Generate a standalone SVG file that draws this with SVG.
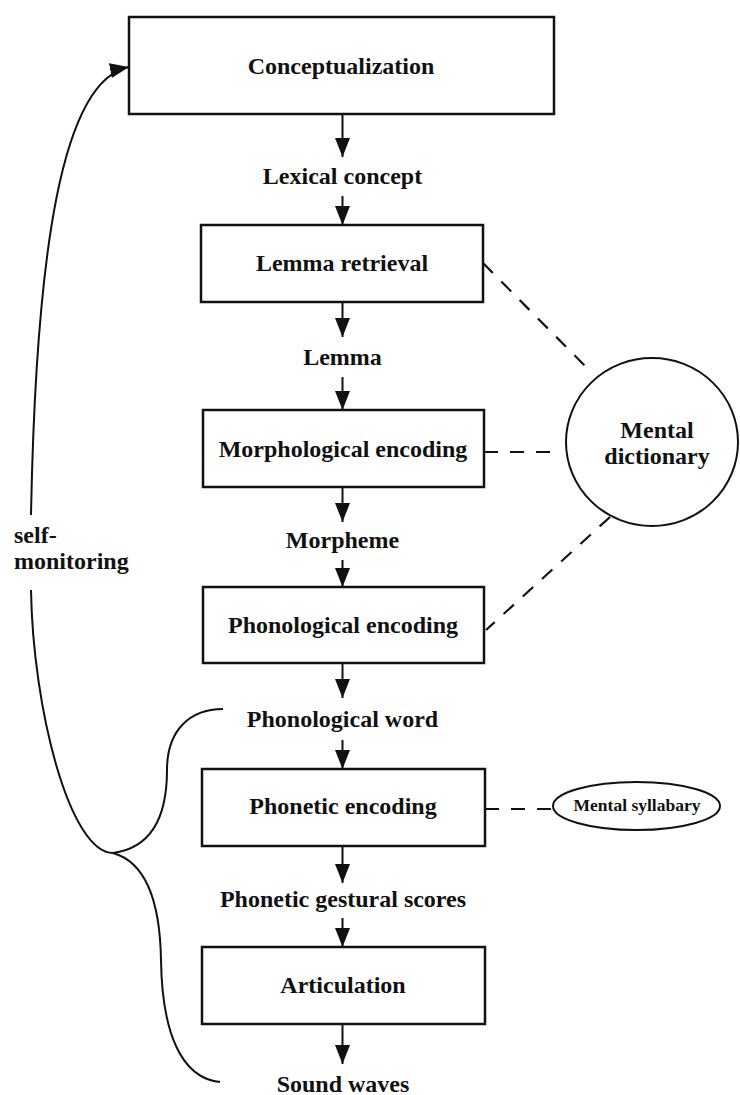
<svg xmlns="http://www.w3.org/2000/svg" width="740" height="1095" viewBox="0 0 740 1095">
<style>
.box{fill:#fff;stroke:#111;stroke-width:2.5}
.t{font-family:"Liberation Serif","Times New Roman",serif;font-weight:bold;font-size:24px;fill:#111;text-anchor:middle}
.ts{font-family:"Liberation Serif","Times New Roman",serif;font-weight:bold;font-size:17.5px;fill:#111;text-anchor:middle}
.arr{stroke:#111;stroke-width:2;fill:none;marker-end:url(#ah)}
.dash{stroke:#111;stroke-width:2.2;fill:none;stroke-dasharray:14 12}
.curve{stroke:#111;stroke-width:2;fill:none}
</style>
<defs>
<marker id="ah" markerUnits="userSpaceOnUse" markerWidth="20" markerHeight="16" refX="19" refY="7.5" orient="auto">
<path d="M0,0 L19,7.5 L0,15 z" fill="#111"/>
</marker>
</defs>
<rect width="740" height="1095" fill="#fff"/>
<g id="connectors">
<line class="arr" x1="342.5" y1="114" x2="342.5" y2="157"/>
<line class="arr" x1="342.5" y1="196" x2="342.5" y2="225"/>
<line class="arr" x1="342.5" y1="302" x2="342.5" y2="337"/>
<line class="arr" x1="342.5" y1="377" x2="342.5" y2="410"/>
<line class="arr" x1="342.5" y1="487" x2="342.5" y2="522"/>
<line class="arr" x1="342.5" y1="560" x2="342.5" y2="587"/>
<line class="arr" x1="342.5" y1="663" x2="342.5" y2="698"/>
<line class="arr" x1="342.5" y1="740" x2="342.5" y2="769"/>
<line class="arr" x1="342.5" y1="846" x2="342.5" y2="883"/>
<line class="arr" x1="342.5" y1="918" x2="342.5" y2="947"/>
<line class="arr" x1="342.5" y1="1024" x2="342.5" y2="1064"/>
<line class="dash" x1="483" y1="263" x2="590" y2="371"/>
<line class="dash" x1="484" y1="452" x2="553" y2="452"/>
<line class="dash" x1="610" y1="517" x2="486" y2="630"/>
<line class="dash" x1="485" y1="809" x2="553" y2="809"/>
<path class="arr" d="M31,515 C36,250 62,80 129,67"/>
<path class="curve" d="M31,590 C33,710 70,853 113,853"/>
<path class="curve" d="M113,853 C150,848 167,820 167,770 C167,730 190,709 223,709"/>
<path class="curve" d="M113,853 C145,862 160,900 161,960 C162,1030 180,1078 220,1082"/>
</g>
<g id="conceptualization"><rect class="box" x="129" y="17" width="425" height="97"/><text class="t" x="341" y="74">Conceptualization</text></g>
<g id="lexical-concept"><text class="t" x="342.5" y="184">Lexical concept</text></g>
<g id="lemma-retrieval"><rect class="box" x="201" y="225" width="282" height="77"/><text class="t" x="342" y="271">Lemma retrieval</text></g>
<g id="lemma"><text class="t" x="342.5" y="365">Lemma</text></g>
<g id="morphological-encoding"><rect class="box" x="203" y="410" width="281" height="77"/><text class="t" x="343" y="457">Morphological encoding</text></g>
<g id="morpheme"><text class="t" x="342.5" y="548">Morpheme</text></g>
<g id="phonological-encoding"><rect class="box" x="203" y="587" width="281" height="76"/><text class="t" x="343" y="633">Phonological encoding</text></g>
<g id="phonological-word"><text class="t" x="342.5" y="727">Phonological word</text></g>
<g id="phonetic-encoding"><rect class="box" x="202" y="769" width="283" height="77"/><text class="t" x="343" y="814">Phonetic encoding</text></g>
<g id="phonetic-gestural-scores"><text class="t" x="343" y="907">Phonetic gestural scores</text></g>
<g id="articulation"><rect class="box" x="202" y="947" width="283" height="77"/><text class="t" x="343" y="993">Articulation</text></g>
<g id="sound-waves"><text class="t" x="343" y="1092">Sound waves</text></g>
<g id="mental-dictionary"><ellipse cx="652" cy="442" rx="86" ry="84" fill="#fff" stroke="#111" stroke-width="2"/><text class="t" x="657" y="438">Mental</text><text class="t" x="657" y="464">dictionary</text></g>
<g id="mental-syllabary"><ellipse cx="636.5" cy="806" rx="83.5" ry="24" fill="#fff" stroke="#111" stroke-width="2"/><text class="ts" x="637" y="811">Mental syllabary</text></g>
<g id="self-monitoring"><text class="t" x="14" y="543" style="text-anchor:start">self-</text><text class="t" x="14" y="569" style="text-anchor:start">monitoring</text></g>
</svg>
